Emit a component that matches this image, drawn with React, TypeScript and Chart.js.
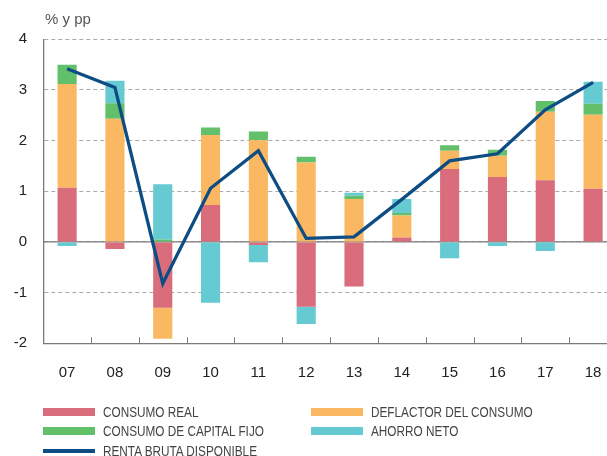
import React, { useEffect, useRef } from "react";
import { Chart, registerables } from "chart.js";
Chart.register(...registerables);

const categories = ["07", "08", "09", "10", "11", "12", "13", "14", "15", "16", "17", "18"];
const consumoReal = [1.07, -0.14, -1.3, 0.73, -0.06, -1.28, -0.88, 0.09, 1.44, 1.28, 1.22, 1.05];
const deflactor = [2.05, 2.43, -0.61, 1.38, 2.01, 1.57, 0.85, 0.43, 0.36, 0.42, 1.35, 1.46];
const capitalFijo = [0.38, 0.31, 0.05, 0.15, 0.17, 0.11, 0.06, 0.05, 0.11, 0.12, 0.21, 0.22];
const ahorroNeto = [-0.08, 0.44, 1.09, -1.2, -0.34, -0.34, 0.06, 0.28, -0.32, -0.08, -0.18, 0.43];
const rentaBruta = [3.42, 3.05, -0.82, 1.06, 1.8, 0.07, 0.1, 0.84, 1.6, 1.74, 2.61, 3.15];
const yTicks = [-2, -1, 0, 1, 2, 3, 4];

const RED = "#d96d7b";
const ORANGE = "#fbb862";
const GREEN = "#62bf6a";
const CYAN = "#66cad3";
const BLUE = "#0e4c84";

const W = 617;
const H = 456;

export default function App() {
  const ref = useRef<HTMLCanvasElement>(null);
  useEffect(() => {
    const overlay = {
      id: "overlay",
      beforeDatasetsDraw(chart: any) {
        const { ctx, chartArea, scales } = chart;
        const y = scales.y;
        const x = scales.x;
        ctx.save();
        ctx.strokeStyle = "#7a7a7a";
        ctx.lineWidth = 1.3;
        const py = y.getPixelForValue(0);
        ctx.beginPath();
        ctx.moveTo(chartArea.left, py);
        ctx.lineTo(chartArea.right, py);
        ctx.stroke();
        ctx.lineWidth = 1;
        const step = x.getPixelForValue(1) - x.getPixelForValue(0);
        for (let i = 0; i < categories.length - 1; i++) {
          const px = Math.round(x.getPixelForValue(i) + step / 2) + 0.5;
          ctx.beginPath();
          ctx.moveTo(px, chartArea.bottom);
          ctx.lineTo(px, chartArea.bottom - 6);
          ctx.stroke();
        }
        ctx.restore();
      },
    };
    const barCommon = { stack: "bars", order: 1, barPercentage: 0.4, categoryPercentage: 1, borderWidth: 0 };
    const chart = new Chart(ref.current as HTMLCanvasElement, {
      type: "bar",
      data: {
        labels: categories,
        datasets: [
          { label: "CONSUMO REAL", data: consumoReal, backgroundColor: RED, ...barCommon },
          { label: "DEFLACTOR DEL CONSUMO", data: deflactor, backgroundColor: ORANGE, ...barCommon },
          { label: "CONSUMO DE CAPITAL FIJO", data: capitalFijo, backgroundColor: GREEN, ...barCommon },
          { label: "AHORRO NETO", data: ahorroNeto, backgroundColor: CYAN, ...barCommon },
          {
            type: "line",
            label: "RENTA BRUTA DISPONIBLE",
            data: rentaBruta,
            borderColor: BLUE,
            backgroundColor: BLUE,
            borderWidth: 3.3,
            pointRadius: 0,
            tension: 0,
            stack: "line",
            order: 0,
          } as any,
        ],
      },
      options: {
        responsive: false,
        animation: false,
        devicePixelRatio: 1,
        layout: { padding: { top: 39.3, left: 0, right: 0, bottom: 0 } },
        plugins: { legend: { display: false }, tooltip: { enabled: false } },
        scales: {
          x: {
            stacked: true,
            offset: true,
            grid: { display: false },
            border: { display: true, color: "#7a7a7a", width: 1.3 },
            ticks: {
              color: "#222",
              padding: 13,
              font: { family: "'Liberation Sans', Arial, sans-serif", size: 15 },
              maxRotation: 0,
            },
            afterFit: (s: any) => {
              s.height = H - 343.3;
            },
          },
          y: {
            stacked: true,
            min: -2,
            max: 4,
            afterBuildTicks: (s: any) => {
              s.ticks = yTicks.map((v) => ({ value: v }));
            },
            grid: { color: "#aaaaaa", lineWidth: 1, drawTicks: false },
            border: { display: true, color: "#7a7a7a", width: 1.3, dash: [4, 3] },
            ticks: {
              color: "#222",
              padding: 16,
              font: { family: "'Liberation Sans', Arial, sans-serif", size: 15 },
            },
            afterFit: (s: any) => {
              s.width = 43.2;
            },
          },
        },
      },
      plugins: [overlay],
    });
    return () => chart.destroy();
  }, []);

  const legendFont: React.CSSProperties = {
    position: "absolute",
    fontFamily: "'Liberation Sans', Arial, sans-serif",
    fontSize: 15,
    color: "#444",
    lineHeight: "16px",
    whiteSpace: "nowrap",
    transform: "scaleX(0.785)",
    transformOrigin: "left center",
  };
  const item = (x: number, y: number, color: string, text: string, line = false) => (
    <React.Fragment key={text}>
      <div
        style={{
          position: "absolute",
          left: x,
          top: line ? y - 2 : y - 4,
          width: 52,
          height: line ? 4 : 8,
          background: color,
        }}
      />
      <div style={{ ...legendFont, left: x + 60, top: y - 8 }}>{text}</div>
    </React.Fragment>
  );

  return (
    <div style={{ position: "fixed", left: 0, top: 0, width: W, height: H, background: "#fff", overflow: "hidden" }}>
      <canvas ref={ref} width={W} height={H} style={{ position: "absolute", left: 0, top: 0, width: W, height: H }} />
      <div
        style={{
          position: "absolute",
          left: 45,
          top: 10,
          fontFamily: "'Liberation Sans', Arial, sans-serif",
          fontSize: 15,
          color: "#555",
          whiteSpace: "nowrap",
        }}
      >
        % y pp
      </div>
      {item(43, 412, RED, "CONSUMO REAL")}
      {item(311, 412, ORANGE, "DEFLACTOR DEL CONSUMO")}
      {item(43, 431, GREEN, "CONSUMO DE CAPITAL FIJO")}
      {item(311, 431, CYAN, "AHORRO NETO")}
      {item(43, 451, BLUE, "RENTA BRUTA DISPONIBLE", true)}
    </div>
  );
}
